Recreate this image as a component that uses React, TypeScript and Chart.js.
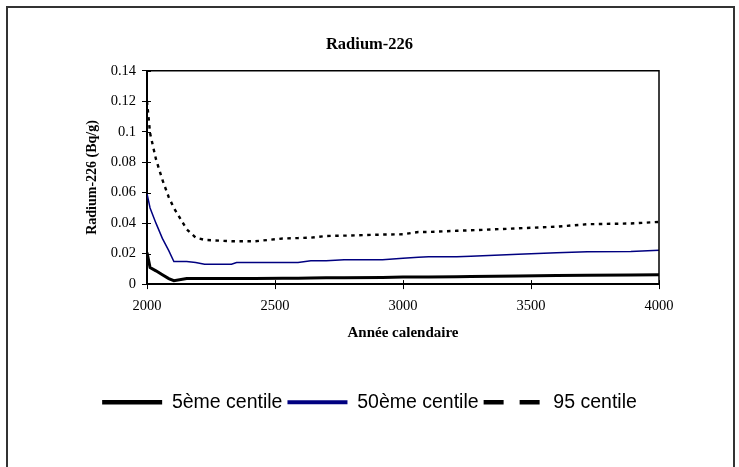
import React, { useEffect, useRef } from 'react';
import { Chart, registerables } from 'chart.js';

Chart.register(...registerables);

// ---- data ----
const years = [2000, 2012, 2035, 2060, 2085, 2105, 2155, 2190, 2225, 2330, 2350, 2420, 2530, 2590, 2640, 2700, 2770, 2920, 3000, 3060, 3100, 3210, 3265, 3450, 3600, 3720, 3890, 4000];
const p5 = [0.0207, 0.0109, 0.0087, 0.0061, 0.0036, 0.0022, 0.0036, 0.0036, 0.0036, 0.0036, 0.0036, 0.0037, 0.0038, 0.0039, 0.004, 0.0041, 0.0042, 0.0044, 0.0046, 0.0047, 0.0047, 0.0049, 0.005, 0.0053, 0.0056, 0.0058, 0.006, 0.0061];
const p50 = [0.0593, 0.05, 0.04, 0.03, 0.022, 0.0148, 0.0148, 0.0142, 0.0131, 0.0131, 0.0142, 0.0142, 0.0142, 0.0142, 0.0153, 0.0153, 0.016, 0.016, 0.017, 0.0177, 0.0179, 0.0179, 0.0183, 0.0196, 0.0205, 0.0213, 0.0214, 0.0222];
const p95 = [0.12, 0.099, 0.082, 0.0685, 0.057, 0.05, 0.036, 0.0305, 0.029, 0.0281, 0.0281, 0.0281, 0.0299, 0.0302, 0.0305, 0.0316, 0.0318, 0.0325, 0.0327, 0.0342, 0.0342, 0.035, 0.0353, 0.0366, 0.0377, 0.0393, 0.0398, 0.0408];

const seriesNames = ['5ème centile', '50ème centile', '95 centile'];
const xTickValues = [2000, 2500, 3000, 3500, 4000];
const yTickLabels = ['0', '0.02', '0.04', '0.06', '0.08', '0.1', '0.12', '0.14'];
const chartTitle = 'Radium-226';
const yTitle = 'Radium-226 (Bq/g)';
const xTitle = 'Année calendaire';

const SERIF = '"Liberation Serif", "Times New Roman", serif';
const SANS = '"Liberation Sans", Arial, sans-serif';

const toPoints = (vals: number[]) => years.map((x, i) => ({ x, y: vals[i] }));

const plotFrame = {
  id: 'plotFrame',
  afterDatasetsDraw(chart: any) {
    const { ctx, chartArea: a, scales } = chart;
    ctx.save();
    ctx.strokeStyle = '#000';
    ctx.lineWidth = 1.5;
    ctx.beginPath();
    ctx.moveTo(a.left, a.top);
    ctx.lineTo(a.right, a.top);
    ctx.lineTo(a.right, a.bottom);
    ctx.stroke();
    ctx.lineWidth = 1;
    ctx.beginPath();
    scales.y.ticks.forEach((t: any) => {
      const y = Math.round(scales.y.getPixelForValue(t.value)) + 0.5;
      ctx.moveTo(a.left, y);
      ctx.lineTo(a.left + 4, y);
    });
    scales.x.ticks.forEach((t: any) => {
      const x = Math.round(scales.x.getPixelForValue(t.value)) + 0.5;
      ctx.moveTo(x, a.bottom);
      ctx.lineTo(x, a.bottom - 4);
    });
    ctx.stroke();
    ctx.restore();
  },
};

export default function App() {
  const canvasRef = useRef<HTMLCanvasElement | null>(null);

  useEffect(() => {
    if (!canvasRef.current) return;
    const styles = [
      { color: '#000000', width: 3, dash: [] as number[], legendDash: [] as number[], legendWidth: 4.5 },
      { color: '#000080', width: 1.5, dash: [] as number[], legendDash: [] as number[], legendWidth: 4 },
      { color: '#000000', width: 2.4, dash: [3.5, 4.5], legendDash: [20, 16], legendWidth: 4.5 },
    ];
    const seriesData = [p5, p50, p95];
    const chart = new Chart(canvasRef.current, {
      type: 'line',
      data: {
        datasets: seriesData.map((vals, i) => ({
          label: seriesNames[i],
          data: toPoints(vals),
          borderColor: styles[i].color,
          backgroundColor: styles[i].color,
          borderWidth: styles[i].width,
          borderDash: styles[i].dash,
          pointRadius: 0,
          tension: 0,
          fill: false,
        })),
      },
      options: {
        animation: false,
        responsive: true,
        maintainAspectRatio: false,
        layout: { padding: { left: 72, right: 74, top: 10, bottom: 45 } },
        plugins: {
          tooltip: { enabled: false },
          title: {
            display: true,
            text: chartTitle,
            color: '#000',
            font: { family: SERIF, size: 16.5, weight: 'bold' },
            padding: { top: 17, bottom: 16 },
          },
          legend: {
            display: true,
            position: 'bottom',
            labels: {
              usePointStyle: true,
              pointStyleWidth: 60,
              padding: 5,
              color: '#000',
              font: { family: SANS, size: 19.5 },
              generateLabels: () =>
                seriesNames.map((name, i) => ({
                  text: name,
                  fillStyle: styles[i].color,
                  strokeStyle: styles[i].color,
                  lineWidth: styles[i].legendWidth,
                  lineDash: styles[i].legendDash,
                  pointStyle: 'line',
                  hidden: false,
                  datasetIndex: i,
                  fontColor: '#000',
                })),
            },
          },
        },
        scales: {
          x: {
            type: 'linear',
            min: 2000,
            max: 4000,
            afterBuildTicks: (scale: any) => {
              scale.ticks = xTickValues.map((v) => ({ value: v }));
            },
            ticks: {
              color: '#000',
              font: { family: SERIF, size: 14.5 },
              padding: 8,
              maxRotation: 0,
              callback: (v: any) => String(v),
            },
            grid: { display: true, drawOnChartArea: false, drawTicks: true, tickLength: 5, color: '#000', lineWidth: 1 },
            border: { display: true, color: '#000', width: 2 },
            title: {
              display: true,
              text: xTitle,
              color: '#000',
              font: { family: SERIF, size: 15, weight: 'bold' },
              padding: { top: 2, bottom: 45 },
            },
          },
          y: {
            type: 'linear',
            min: 0,
            max: 0.14,
            afterFit: (scale: any) => {
              scale.width = 67;
            },
            ticks: {
              stepSize: 0.02,
              color: '#000',
              font: { family: SERIF, size: 14.5 },
              padding: 6,
              callback: (_v: any, i: number) => yTickLabels[i],
            },
            grid: { display: true, drawOnChartArea: false, drawTicks: true, tickLength: 5, color: '#000', lineWidth: 1 },
            border: { display: true, color: '#000', width: 2 },
            title: {
              display: true,
              text: yTitle,
              color: '#000',
              font: { family: SERIF, size: 14, weight: 'bold' },
              padding: { top: 4, bottom: 4 },
            },
          },
        },
      },
      plugins: [plotFrame],
    } as any);
    return () => chart.destroy();
  }, []);

  return (
    <div
      style={{
        position: 'fixed',
        left: 6,
        top: 6,
        width: 725,
        height: 470,
        borderTop: '2px solid #333',
        borderLeft: '2px solid #333',
        borderRight: '2px solid #333',
        background: '#fff',
      }}
    >
      <div style={{ position: 'relative', width: 725, height: 459 }}>
        <canvas ref={canvasRef} />
      </div>
    </div>
  );
}
